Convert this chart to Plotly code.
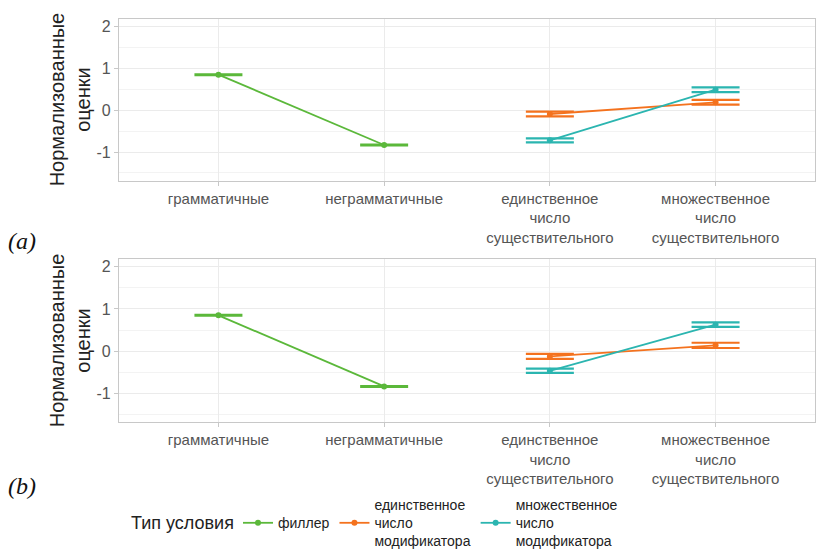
import plotly.graph_objects as go
from plotly.subplots import make_subplots

categories = ["грамматичные", "неграмматичные",
              "единственное<br>число<br>существительного",
              "множественное<br>число<br>существительного"]
y_tickvals = [-1, 0, 1, 2]
y_ticktext = ["-1", "0", "1", "2"]

# Panel (a)
a_filler_x = [categories[0], categories[1]]
a_filler_y = [0.85, -0.83]
a_filler_se = [0.01, 0.01]
a_sg_x = [categories[2], categories[3]]
a_sg_y = [-0.09, 0.19]
a_sg_se = [0.055, 0.058]
a_pl_x = [categories[2], categories[3]]
a_pl_y = [-0.72, 0.49]
a_pl_se = [0.047, 0.055]

# Panel (b)
b_filler_y = [0.85, -0.83]
b_filler_se = [0.01, 0.01]
b_sg_y = [-0.12, 0.14]
b_sg_se = [0.058, 0.062]
b_pl_y = [-0.46, 0.63]
b_pl_se = [0.05, 0.055]

legend_title = "Тип условия"
series_names = ["&nbsp;<br>филлер<br>&nbsp;", "единственное<br>число<br>модификатора",
                "множественное<br>число<br>модификатора"]
colors = ["#5BB83A", "#F4721E", "#2BB5B0"]
FONT = "Liberation Sans"

W, H = 819, 557
L, R = 119, 4
PW = W - L - R


def px(x):
    return (x - L) / PW


def py(y):
    return 1 - y / H


fig = make_subplots(rows=2, cols=1)

panels = [
    (1, [(a_filler_x, a_filler_y, a_filler_se), (a_sg_x, a_sg_y, a_sg_se), (a_pl_x, a_pl_y, a_pl_se)]),
    (2, [(a_filler_x, b_filler_y, b_filler_se), (a_sg_x, b_sg_y, b_sg_se), (a_pl_x, b_pl_y, b_pl_se)]),
]
for row, data in panels:
    for i, (xs, ys, se) in enumerate(data):
        fig.add_trace(go.Scatter(
            x=xs, y=ys, mode="lines+markers", name=series_names[i],
            line=dict(color=colors[i], width=1.8),
            marker=dict(color=colors[i], size=6),
            error_y=dict(type="data", array=se, width=24, thickness=2.2, color=colors[i]),
            showlegend=(row == 1), legendgroup=str(i),
        ), row=row, col=1)

axis_common = dict(
    showline=True, linecolor="#c8c8c8", linewidth=1.2, mirror=True,
    showgrid=True, gridcolor="#ebebeb", gridwidth=1,
    ticks="outside", ticklen=4, tickcolor="#c8c8c8",
    tickfont=dict(family=FONT, size=15, color="#555555"),
    zeroline=False, automargin=False,
)
for r in (1, 2):
    fig.update_xaxes(axis_common, categoryorder="array", categoryarray=categories,
                     range=[-0.6, 3.6], row=r, col=1)
    fig.update_yaxes(axis_common, range=[-1.68, 2.19], tickvals=y_tickvals, ticktext=y_ticktext,
                     tickfont=dict(family=FONT, size=16, color="#555555"),
                     minor=dict(showgrid=True, gridcolor="#f3f3f3", tickvals=[-1.5, -0.5, 0.5, 1.5]),
                     title=dict(text="Нормализованные<br>оценки",
                                font=dict(family=FONT, size=20, color="#222222"),
                                standoff=0),
                     row=r, col=1)

fig.update_layout(
    width=W, height=H,
    margin=dict(l=L, r=R, t=0, b=0),
    plot_bgcolor="white", paper_bgcolor="white",
    yaxis=dict(domain=[py(184.5), py(19)]),
    yaxis2=dict(domain=[py(431.7), py(264.3)]),
    legend=dict(
        orientation="h", x=px(238), y=py(535), xanchor="left", yanchor="middle",
        font=dict(family=FONT, size=14, color="#222222"),
        valign="middle", tracegroupgap=0, itemwidth=30,
        bgcolor="rgba(0,0,0,0)",
    ),
    annotations=[
        dict(text=legend_title, xref="paper", yref="paper", x=px(129), y=py(535),
             xanchor="left", yanchor="middle", showarrow=False,
             font=dict(family=FONT, size=18, color="#222222")),
        dict(text="<i>(a)</i>", xref="paper", yref="paper", x=px(6), y=py(246),
             xanchor="left", yanchor="middle", showarrow=False,
             font=dict(family="Liberation Serif", size=24, color="#111111")),
        dict(text="<i>(b)</i>", xref="paper", yref="paper", x=px(6), y=py(497),
             xanchor="left", yanchor="middle", showarrow=False,
             font=dict(family="Liberation Serif", size=24, color="#111111")),
    ],
)

fig.write_html("out.html", config={"displayModeBar": False},
               post_script="document.body.style.margin='0';document.body.style.overflow='hidden';")
